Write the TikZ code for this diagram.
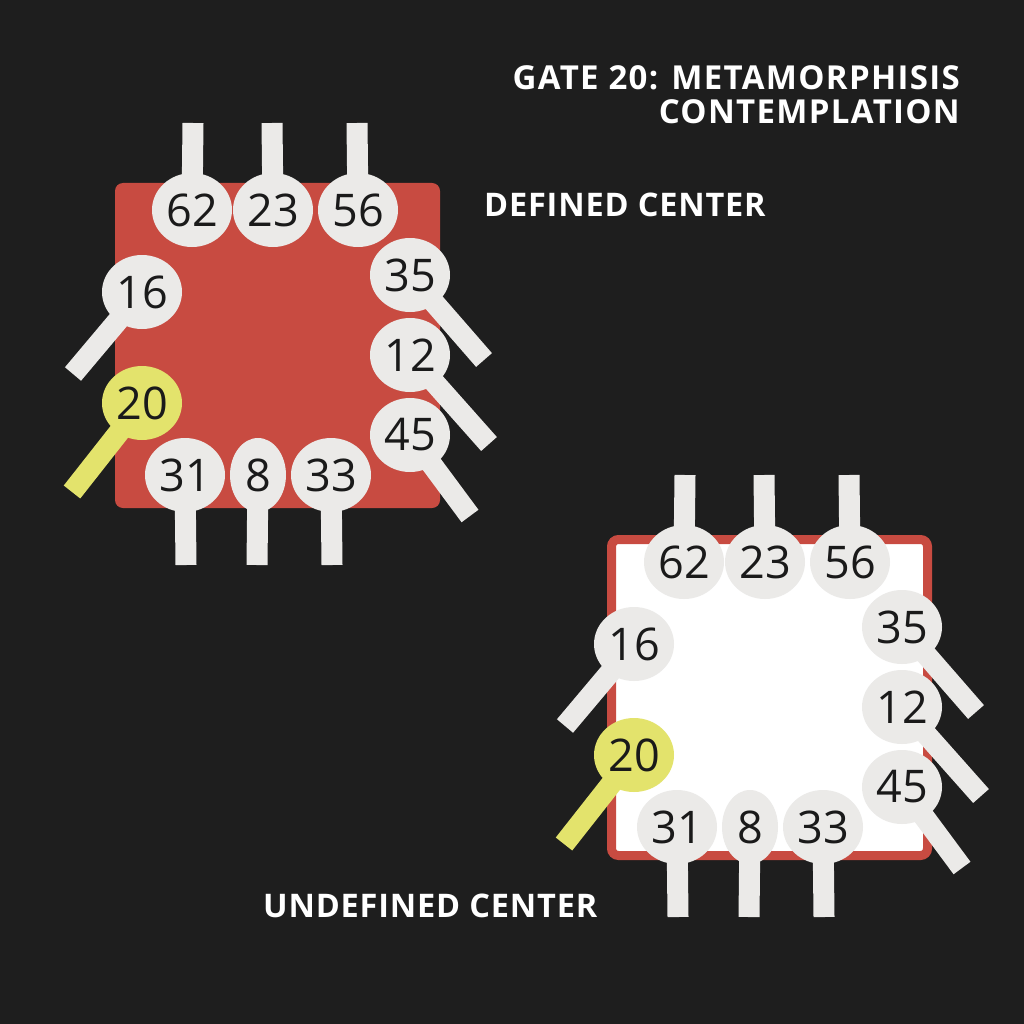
\documentclass[tikz,border=0pt]{standalone}
\usepackage{fontspec}
\setmainfont{Open Sans}
\usepackage{xcolor}
\usetikzlibrary{shapes.geometric, backgrounds}
\definecolor{bgdark}{HTML}{1E1E1E}
\definecolor{centerred}{HTML}{C84B41}
\definecolor{gatepale}{HTML}{EBEAE8}
\definecolor{gateyellow}{HTML}{E3E36C}
\definecolor{digitink}{HTML}{1A1A1A}
% one center with its eleven gates: #1 name prefix, #2 top left corner
\newcommand\gatechip[2]{%
\begin{scope}[shift={#2}]
\node[gate] (#1-62) at (77,27) {62};
\node[gate] (#1-23) at (158,27) {23};
\node[gate] (#1-56) at (243,27) {56};
\node[gate] (#1-35) at (295,92) {35};
\node[gate] (#1-12) at (295,172) {12};
\node[gate] (#1-45) at (295,252) {45};
\node[gate] (#1-16) at (27,109) {16};
\node[gate, fill=gateyellow] (#1-20) at (27,220) {20};
\node[gate] (#1-31) at (70,292) {31};
\node[gate, minimum width=56pt] (#1-8) at (143,292) {8};
\node[gate] (#1-33) at (216,292) {33};
\begin{pgfonlayer}{background}
\draw[stem] (#1-62.center) -- (78,-60) coordinate (#1-62e);
\draw[stem] (#1-23.center) -- (157,-60) coordinate (#1-23e);
\draw[stem] (#1-56.center) -- (242,-60) coordinate (#1-56e);
\draw[stem] (#1-35.center) -- (369,177) coordinate (#1-35e);
\draw[stem] (#1-12.center) -- (374,261) coordinate (#1-12e);
\draw[stem] (#1-45.center) -- (355,333) coordinate (#1-45e);
\draw[stem] (#1-16.center) -- (-42,191) coordinate (#1-16e);
\draw[stem, draw=gateyellow] (#1-20.center) -- (-43,309) coordinate (#1-20e);
\draw[stem] (#1-31.center) -- (71,382) coordinate (#1-31e);
\draw[stem] (#1-8.center) -- (142,382) coordinate (#1-8e);
\draw[stem] (#1-33.center) -- (217,382) coordinate (#1-33e);
\end{pgfonlayer}
\end{scope}}

\begin{document}
\begin{tikzpicture}[x=1pt, y=-1pt,
  gate/.style={ellipse, fill=gatepale, minimum width=80pt, minimum height=74pt, inner sep=0pt,
    text=digitink, font=\fontsize{45}{45}\selectfont},
  stem/.style={draw=gatepale, line width=21pt, line cap=butt},
  heading/.style={text=white, inner sep=0pt,
    font=\fontsize{33}{34}\selectfont\bfseries\addfontfeatures{LetterSpace=4}},
  centerlabel/.style={heading, anchor=base west,
    font=\fontsize{32.5}{34}\selectfont\bfseries\addfontfeatures{LetterSpace=2.5}}]
\useasboundingbox (0,0) rectangle (1024,1024);

\begin{pgfonlayer}{background}
\fill[bgdark] (0,0) rectangle (1024,1024);
\fill[centerred, rounded corners=8pt] (115,183) rectangle (440,508);
\draw[centerred, fill=white, line width=9pt, rounded corners=7pt] (611.5,539.5) rectangle (927.5,855.5);
\end{pgfonlayer}

\gatechip{def}{(115,183)}
\gatechip{undef}{(607,535)}

\node[heading, anchor=base east, align=right] (title) at (960,124) {GATE 20: METAMORPHISIS\\CONTEMPLATION};
\node[centerlabel] (deflabel) at (484,217) {DEFINED CENTER};
\node[centerlabel] (undeflabel) at (263,917) {UNDEFINED CENTER};
\end{tikzpicture}
\end{document}
